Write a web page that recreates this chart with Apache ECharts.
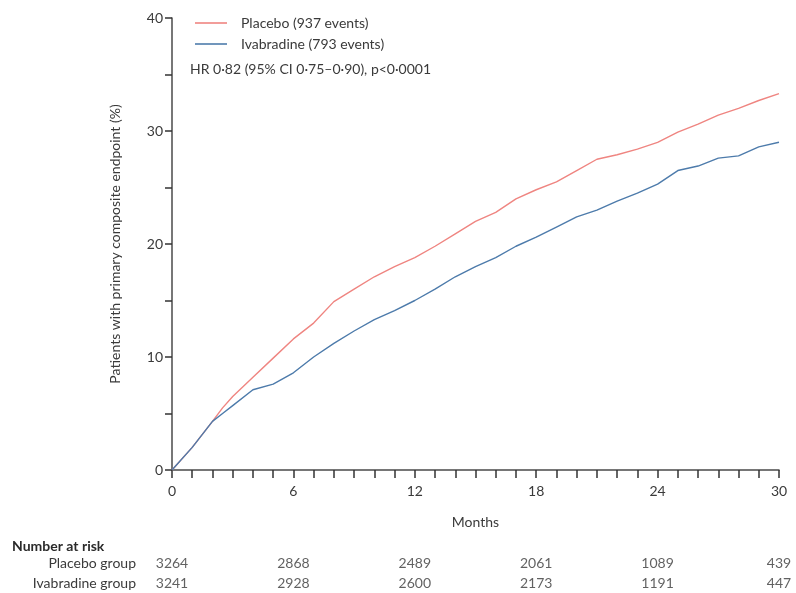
<!DOCTYPE html>
<html>
<head>
<meta charset="utf-8">
<script src="https://cdn.jsdelivr.net/npm/echarts@6/dist/echarts.min.js"></script>
<style>
  html, body { margin: 0; padding: 0; background: #fff; }
  #chart { width: 796px; height: 593px; }
</style>
</head>
<body>
<div id="chart"></div>
<script>
// Cumulative incidence of the primary composite endpoint (%), by month
const months = [0, 1, 2, 2.5, 3, 4, 5, 6, 7, 8, 9, 10, 11, 12, 13, 14, 15, 16, 17, 18, 19, 20, 21, 22, 23, 24, 25, 26, 27, 28, 29, 30];
const placebo = [0, 2.0, 4.3, 5.5, 6.5, 8.2, 9.9, 11.6, 13.0, 14.9, 16.0, 17.1, 18.0, 18.8, 19.8, 20.9, 22.0, 22.8, 24.0, 24.8, 25.5, 26.5, 27.5, 27.9, 28.4, 29.0, 29.9, 30.6, 31.4, 32.0, 32.7, 33.3];
const ivabradine = [0, 2.0, 4.3, 5.0, 5.7, 7.1, 7.6, 8.6, 10.0, 11.2, 12.3, 13.3, 14.1, 15.0, 16.0, 17.1, 18.0, 18.8, 19.8, 20.6, 21.5, 22.4, 23.0, 23.8, 24.5, 25.3, 26.5, 26.9, 27.6, 27.8, 28.6, 29.0];

// Number at risk table
const riskMonths = [0, 6, 12, 18, 24, 30];
const riskGroups = ['Placebo group', 'Ivabradine group'];
const riskPlacebo = [3264, 2868, 2489, 2061, 1089, 439];
const riskIvabradine = [3241, 2928, 2600, 2173, 1191, 447];

// Labelled ticks (ticks are drawn every month on x and every 5 % on y)
const xTickLabels = [0, 6, 12, 18, 24, 30];
const yTickLabels = [0, 10, 20, 30, 40];

const FONT = 'Lato, "Open Sans", sans-serif';
const TEXT = '#3a3a3a';
const AXIS = '#4a4a4a';
const TICK = '#333333';

const pair = (xs, ys) => xs.map((x, i) => [x, ys[i]]);
const riskData = [];
riskMonths.forEach((m, i) => {
  riskData.push([m, riskGroups[0], riskPlacebo[i]]);
  riskData.push([m, riskGroups[1], riskIvabradine[i]]);
});

const chart = echarts.init(document.getElementById('chart'), null, { renderer: 'canvas' });
chart.setOption({
  animation: false,
  backgroundColor: '#fff',
  textStyle: { fontFamily: FONT, color: TEXT },
  title: {
    text: 'Number at risk',
    left: 7, top: 534,
    textStyle: { fontFamily: FONT, fontSize: 14, fontWeight: 'bold', color: '#2a2a2a' }
  },
  legend: {
    orient: 'vertical',
    left: 190, top: 11,
    icon: 'rect',
    itemWidth: 32, itemHeight: 1.6, itemGap: 7,
    textStyle: { fontFamily: FONT, fontSize: 14, color: TEXT, padding: [0, 0, 0, 9] },
    data: ['Placebo (937 events)', 'Ivabradine (793 events)']
  },
  graphic: [{
    type: 'text', left: 190, top: 62,
    style: { text: 'HR 0·82 (95% CI 0·75–0·90), p<0·0001', font: '14px ' + FONT, fill: TEXT }
  }],
  grid: [
    { left: 172, right: 17, top: 18, bottom: 123 },
    { left: 172, right: 17, top: 553, height: 40 }
  ],
  xAxis: [{
    gridIndex: 0, type: 'value', min: 0, max: 30, interval: 1,
    name: 'Months', nameLocation: 'middle', nameGap: 45,
    nameTextStyle: { fontFamily: FONT, fontSize: 14, color: TEXT },
    axisLine: { show: true, onZero: false, lineStyle: { color: AXIS, width: 1.5 } },
    axisTick: { show: true, inside: false, length: 8, lineStyle: { color: TICK, width: 1.5 } },
    axisLabel: {
      margin: 14, fontSize: 14, color: TEXT, fontFamily: FONT,
      formatter: v => (xTickLabels.includes(v) ? String(v) : '')
    },
    splitLine: { show: false }
  }, {
    gridIndex: 1, type: 'value', min: 0, max: 30, show: false
  }],
  yAxis: [{
    gridIndex: 0, type: 'value', min: 0, max: 40, interval: 5,
    name: 'Patients with primary composite endpoint (%)', nameLocation: 'middle', nameGap: 50,
    nameTextStyle: { fontFamily: FONT, fontSize: 14, color: TEXT },
    axisLine: { show: true, lineStyle: { color: AXIS, width: 1.5 } },
    axisTick: { show: true, inside: false, length: 7, lineStyle: { color: TICK, width: 1.5 } },
    axisLabel: {
      margin: 9, fontSize: 14, color: TEXT, fontFamily: FONT,
      formatter: v => (yTickLabels.includes(v) ? String(v) : '')
    },
    splitLine: { show: false }
  }, {
    gridIndex: 1, type: 'category', data: riskGroups, inverse: true,
    axisLine: { show: false }, axisTick: { show: false },
    axisLabel: { margin: 36, fontSize: 14, color: TEXT, fontFamily: FONT }
  }],
  series: [{
    name: 'Placebo (937 events)', type: 'line', xAxisIndex: 0, yAxisIndex: 0,
    data: pair(months, placebo), symbol: 'none',
    color: '#ef8581', lineStyle: { width: 1.4, color: '#ef8581' }
  }, {
    name: 'Ivabradine (793 events)', type: 'line', xAxisIndex: 0, yAxisIndex: 0,
    data: pair(months, ivabradine), symbol: 'none',
    color: '#4d7bab', lineStyle: { width: 1.4, color: '#4d7bab' }
  }, {
    name: 'risk', type: 'scatter', xAxisIndex: 1, yAxisIndex: 1,
    data: riskData, symbolSize: 0,
    label: {
      show: true, position: 'inside', fontSize: 14, color: TEXT, fontFamily: FONT,
      formatter: p => String(p.value[2])
    }
  }]
});
</script>
</body>
</html>
